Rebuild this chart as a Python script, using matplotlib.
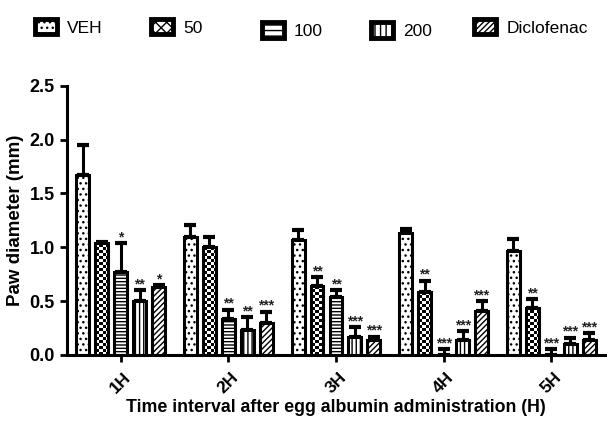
import numpy as np
import matplotlib
matplotlib.use("Agg")
import matplotlib.pyplot as plt
import matplotlib.transforms as mtransforms
from matplotlib.patches import Patch

plt.rcParams['font.family'] = ['Liberation Sans', 'DejaVu Sans']
plt.rcParams['hatch.linewidth'] = 1.0

hours = ['1H', '2H', '3H', '4H', '5H']
groups = ['VEH', '50', '100', '200', 'Diclofenac']

# mean paw diameter and upper SEM for each treatment
veh = [1.67, 1.10, 1.07, 1.13, 0.97]
d50 = [1.04, 1.00, 0.64, 0.58, 0.44]
d100 = [0.77, 0.33, 0.54, 0.0, 0.0]
d200 = [0.50, 0.23, 0.17, 0.14, 0.10]
diclo = [0.63, 0.30, 0.14, 0.41, 0.14]

veh_err = [0.28, 0.11, 0.09, 0.04, 0.11]
d50_err = [0.01, 0.10, 0.08, 0.11, 0.08]
d100_err = [0.27, 0.09, 0.06, 0.055, 0.055]
d200_err = [0.10, 0.12, 0.09, 0.08, 0.06]
diclo_err = [0.02, 0.10, 0.03, 0.09, 0.06]

veh_sig = ['', '', '', '', '']
d50_sig = ['', '', '**', '**', '**']
d100_sig = ['*', '**', '**', '***', '***']
d200_sig = ['**', '**', '***', '***', '***']
diclo_sig = ['*', '***', '***', '***', '***']

means = [veh, d50, d100, d200, diclo]
errs = [veh_err, d50_err, d100_err, d200_err, diclo_err]
sigs = [veh_sig, d50_sig, d100_sig, d200_sig, diclo_sig]

# hatch per group; None means checkerboard fill
hatches = ['...', None, '-----', '||||', '//////']

fig = plt.figure(figsize=(6.07, 4.23), dpi=100)
ax = fig.add_axes([0.110, 0.161, 0.887, 0.636])
ax.set_xlim(-0.5, 4.5)
ax.set_ylim(0, 2.5)

# checkerboard texture, roughly 3 px squares over the axes area
ny, nx = 90, 180
checker = (np.add.outer(np.arange(ny), np.arange(nx)) % 2).astype(float)

x = np.arange(len(hours))
pitch = 0.176
width = 0.12
lw = 2.2

for i in range(len(groups)):
    pos = x + (i - 2) * pitch
    if hatches[i] is None:
        bars = ax.bar(pos, means[i], width, color='white', linewidth=0, zorder=2)
        for b in bars:
            im = ax.imshow(checker, extent=(-0.5, 4.5, 0, 2.5), cmap='gray', vmin=0, vmax=1,
                           interpolation='nearest', aspect='auto', zorder=2)
            im.set_clip_path(b)
    else:
        ax.bar(pos, means[i], width, color='white', edgecolor='black', hatch=hatches[i],
               linewidth=0, zorder=2)
    ax.bar(pos, means[i], width, fill=False, edgecolor='black', linewidth=lw, zorder=3)
    lower = np.zeros(len(hours))
    ax.errorbar(pos, means[i], yerr=[lower, errs[i]], fmt='none', ecolor='black',
                elinewidth=2.2, capsize=4, capthick=3, zorder=1)
    for j in range(len(hours)):
        if sigs[i][j]:
            ax.text(pos[j], means[i][j] + errs[i][j] - 0.01, sigs[i][j], ha='center', va='bottom',
                    fontsize=10, fontweight='bold', color='#222222', zorder=4)

ax.set_xlim(-0.5, 4.5)
ax.set_ylim(0, 2.5)
ax.set_yticks([0, 0.5, 1.0, 1.5, 2.0, 2.5])
ax.set_yticklabels(['0.0', '0.5', '1.0', '1.5', '2.0', '2.5'], fontsize=13, fontweight='bold')
ax.set_xticks(x)
ax.set_xticklabels(hours, rotation=45, fontsize=12.5, fontweight='bold', ha='center', va='top')
shift = mtransforms.ScaledTranslation(-3 / 100, 0, fig.dpi_scale_trans)
for lab in ax.get_xticklabels():
    lab.set_transform(lab.get_transform() + shift)
ax.tick_params(axis='both', width=2, length=5)
ax.tick_params(axis='x', pad=6)
for s in ['top', 'right']:
    ax.spines[s].set_visible(False)
for s in ['left', 'bottom']:
    ax.spines[s].set_linewidth(2.2)

ax.set_ylabel('Paw diameter (mm)', fontsize=13.5, fontweight='bold', labelpad=4)
ax.set_xlabel('Time interval after egg albumin administration (H)', fontsize=12.8, fontweight='bold',
              labelpad=2)

# legend entries are laid out individually along the top
leg_x = [0.046, 0.238, 0.420, 0.600, 0.770]
leg_y = [0.972, 0.972, 0.964, 0.964, 0.972]
leg_hatch = ['...', 'xxx', '---', '|||', '//////']
for i in range(len(groups)):
    h = Patch(facecolor='white', edgecolor='black', hatch=leg_hatch[i], linewidth=3.5)
    fig.legend([h], [groups[i]], loc='upper left', bbox_to_anchor=(leg_x[i], leg_y[i]),
               frameon=False, fontsize=12.5, handlelength=1.25, handleheight=1.0,
               handletextpad=0.6, borderaxespad=0)

fig.savefig('out.png', dpi=100)
